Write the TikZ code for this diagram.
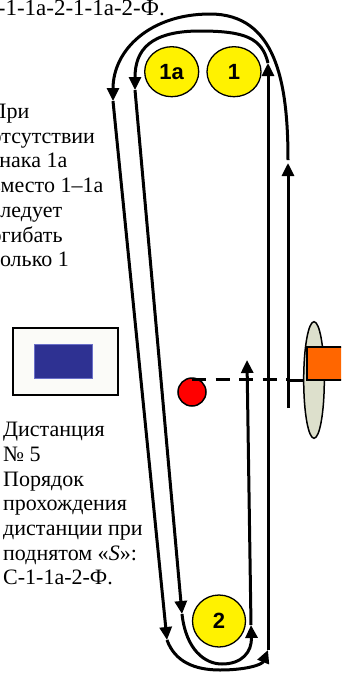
\documentclass[tikz,border=0pt]{standalone}
\usepackage{fontspec}
\setmainfont{Liberation Serif}
\newfontfamily\tnr{Liberation Serif}
\newfontfamily\lsans{Liberation Sans}
\usetikzlibrary{arrows.meta,shapes.geometric}
\definecolor{sage}{HTML}{DDE0CC}
\definecolor{flagblue}{HTML}{2E3192}
\definecolor{flagedge}{HTML}{6A6FC8}
\definecolor{orangeR}{HTML}{FF6600}
\definecolor{flagbg}{HTML}{FBFBF8}
\begin{document}
\begin{tikzpicture}[x=1pt,y=-1pt,
 route/.style={line width=3pt, -{Triangle[length=13pt,width=12pt]}},
 plainline/.style={line width=3pt},
 buoy/.style={ellipse, draw=black, line width=1.3pt, fill=yellow, minimum width=54pt, minimum height=50pt, inner sep=0pt, font=\lsans\bfseries\fontsize{22}{22}\selectfont},
 txt/.style={anchor=base west, inner sep=0pt, font=\tnr\fontsize{22}{24.7}\selectfont}
]
\useasboundingbox (0,0) rectangle (341,673);
\clip (0,0) rectangle (341,673);

% top text (cut)
\node[txt, anchor=base east, font=\tnr\fontsize{23}{25}\selectfont] (toptxt) at (165,15) {С-1-1а-2-1-1а-2-Ф.};

% left note
\node[txt] (n1) at (-9.5,118.5) {При};
\node[txt] (n2) at (-9.5,143.2) {отсутствии};
\node[txt] (n3) at (-9.5,167.9) {знака 1а};
\node[txt] (n4) at (-9.5,192.6) {вместо 1–1а};
\node[txt] (n5) at (-9.5,217.3) {следует};
\node[txt] (n6) at (-9.5,242.0) {огибать};
\node[txt] (n7) at (-9.5,266.7) {только 1};

% flag
\draw[line width=1.5pt, fill=flagbg] (13,328) rectangle (118,395);
\draw[line width=0.8pt, draw=flagedge, fill=flagblue] (34,344) rectangle (92,378);

% distance text
\node[txt] (d1) at (3,436.7) {Дистанция};
\node[txt] (d2) at (3,461.4) {№ 5};
\node[txt] (d3) at (3,486.1) {Порядок};
\node[txt] (d4) at (3,510.8) {прохождения};
\node[txt] (d5) at (3,535.5) {дистанции при};
\node[txt] (d6) at (3,560.2) {поднятом «\textit{S}»:};
\node[txt] (d7) at (3,584.9) {С-1-1а-2-Ф.};

% buoys
\node[buoy] (b1a) at (171.7,71.7) {1а};
\node[buoy] (b1) at (234,71.7) {1};
\node[buoy, minimum width=53pt, minimum height=52pt] (b2) at (219,621) {2};

% start line
\node[ellipse, draw=black, line width=1.5pt, fill=sage, minimum width=20.6pt, minimum height=116.6pt, inner sep=0pt] (startbuoy) at (314,380) {};
\draw[line width=1.5pt, fill=orangeR] (307,347) rectangle (350,380);

% finish buoy and finish line
\node[circle, draw=black, line width=1.5pt, fill=red, minimum size=28pt, inner sep=0pt] (fin) at (192,392) {};
\coordinate (f1) at (192,379);
\coordinate (f2) at (288,379);
\draw[line width=3pt, dash pattern=on 14pt off 9.5pt] (f1) -- (f2);

% route coordinates
\coordinate (s0) at (288,408);
\coordinate (s1) at (288,163);
\coordinate (s2) at (288,160);
\coordinate (ol1) at (113,101);
\coordinate (ol2) at (167,640);
\coordinate (or1) at (268,650);
\coordinate (or2) at (268,63);
\coordinate (il1) at (135,90);
\coordinate (il2) at (182,614);
\coordinate (ir1) at (251,625);
\coordinate (ir2) at (247,360);
\coordinate (sb) at (304,380);
\coordinate (sa) at (288,380);

\draw[plainline] (sa) -- (sb);
\draw[route] (s0) -- (s1);
\draw[route] (s2) .. controls (288,80) and (275,14) .. (210,14) .. controls (150,14) and (113,50) .. (ol1);
\draw[route] (ol1) -- (ol2);
\draw[route] (ol2) .. controls (175,662) and (195,670) .. (220,670) .. controls (245,670) and (262,665) .. (or1);
\draw[route] (or1) -- (or2);
\draw[route] (or2) .. controls (262,38) and (245,31) .. (200,31) .. controls (150,31) and (135,50) .. (il1);
\draw[route] (il1) -- (il2);
\draw[route] (il2) .. controls (186,650) and (205,664) .. (222,664) .. controls (242,664) and (252,652) .. (ir1);
\draw[route] (ir1) -- (ir2);
\end{tikzpicture}
\end{document}
